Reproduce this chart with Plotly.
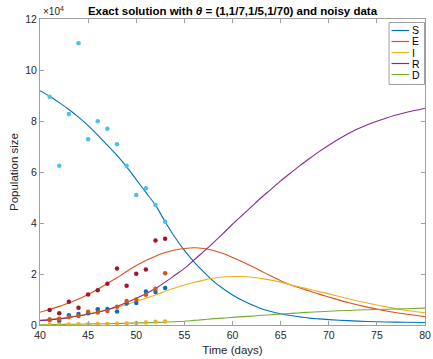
import plotly.graph_objects as go

# ---- data (population in units of 10^4) ----
obs_days = [41, 42, 43, 44, 45, 46, 47, 48, 49, 50, 51, 52, 53]
S_obs = [8.95, 6.25, 8.27, 11.05, 7.28, 7.99, 7.70, 7.09, 6.25, 5.10, 5.36, 4.71, 4.05]
E_obs = [0.59, 0.46, 0.91, 0.68, 1.20, 1.36, 1.62, 2.22, 1.54, 2.01, 2.18, 3.31, 3.38]
I_obs = [0.22, 0.16, 0.38, 0.43, 0.46, 0.62, 0.63, 0.53, 0.84, 0.86, 1.31, 1.29, 1.45]
R_obs = [0.20, 0.25, 0.31, 0.35, 0.52, 0.49, 0.55, 0.72, 0.94, 1.00, 1.19, 1.42, 2.03]
D_obs = [0.02, 0.02, 0.02, 0.03, 0.03, 0.04, 0.04, 0.05, 0.06, 0.08, 0.10, 0.13, 0.14]

t_curve = [40, 41, 42, 43, 44, 45, 46, 47, 48, 49, 50, 51, 52, 53, 54, 55, 56, 57, 58, 59,
           60, 61, 62, 63, 64, 65, 66, 67, 68, 69, 70, 72, 74, 76, 78, 80]
S_curve = [9.19, 8.97, 8.72, 8.45, 8.15, 7.82, 7.45, 7.05, 6.65, 6.20, 5.70, 5.20, 4.70, 4.05, 3.45,
           2.93, 2.48, 2.08, 1.72, 1.43, 1.18, 0.97, 0.79, 0.64, 0.53, 0.44, 0.37, 0.32, 0.27, 0.24,
           0.21, 0.17, 0.14, 0.12, 0.11, 0.10]
E_curve = [0.50, 0.61, 0.73, 0.86, 1.02, 1.20, 1.40, 1.63, 1.85, 2.10, 2.33, 2.53, 2.70, 2.84, 2.94,
           3.00, 3.03, 3.00, 2.92, 2.80, 2.65, 2.48, 2.30, 2.11, 1.92, 1.74, 1.58, 1.45, 1.33, 1.21,
           1.10, 0.88, 0.70, 0.55, 0.43, 0.33]
I_curve = [0.19, 0.22, 0.26, 0.31, 0.37, 0.44, 0.52, 0.60, 0.70, 0.80, 0.92, 1.05, 1.18, 1.32, 1.45,
           1.57, 1.67, 1.76, 1.83, 1.88, 1.90, 1.90, 1.87, 1.82, 1.76, 1.68, 1.58, 1.49, 1.40, 1.31,
           1.22, 1.03, 0.86, 0.71, 0.58, 0.48]
R_curve = [0.17, 0.20, 0.24, 0.29, 0.35, 0.42, 0.50, 0.60, 0.73, 0.88, 1.05, 1.23, 1.43, 1.68, 1.95,
           2.22, 2.55, 2.88, 3.22, 3.58, 3.95, 4.30, 4.65, 5.00, 5.32, 5.65, 5.95, 6.25, 6.53, 6.80,
           7.05, 7.50, 7.85, 8.12, 8.33, 8.50]
D_curve = [0.01, 0.02, 0.02, 0.03, 0.03, 0.04, 0.05, 0.05, 0.06, 0.07, 0.08, 0.09, 0.10, 0.11, 0.13,
           0.15, 0.18, 0.21, 0.25, 0.27, 0.30, 0.33, 0.35, 0.38, 0.40, 0.43, 0.45, 0.48, 0.50, 0.52,
           0.54, 0.57, 0.60, 0.62, 0.64, 0.66]

curve_names = ["S", "E", "I", "R", "D"]
curve_colors = ["#0072BD", "#D95319", "#EDB120", "#7E2F8E", "#77AC30"]
obs_colors = ["#4DBEEE", "#A2142F", "#0072BD", "#D95319", "#EDB120"]
x_ticks = [40, 45, 50, 55, 60, 65, 70, 75, 80]
y_ticks = [0, 2, 4, 6, 8, 10, 12]

curves = [S_curve, E_curve, I_curve, R_curve, D_curve]
obs = [S_obs, E_obs, I_obs, R_obs, D_obs]

W, H = 433, 359
ML, MR, MT, MB = 40, 2, 19, 34
PW, PH = W - ML - MR, H - MT - MB


def px2x(px):
    return (px - ML) / PW


def px2y(py):
    return 1 - (py - MT) / PH


FONT = "Liberation Sans, Arial, Helvetica, sans-serif"
fig = go.Figure()
for name, col, ys in zip(curve_names, curve_colors, curves):
    fig.add_trace(go.Scatter(x=t_curve, y=ys, mode="lines", name=name, showlegend=False,
                             line=dict(color=col, width=1.1, shape="spline", smoothing=0.8)))
for name, col, ys in zip(curve_names, obs_colors, obs):
    fig.add_trace(go.Scatter(x=obs_days, y=ys, mode="markers", name=name + " data",
                             showlegend=False, marker=dict(color=col, size=4.5)))

axis_common = dict(showgrid=False, zeroline=False, showline=True, linecolor="#a0a0a0",
                   linewidth=1, mirror="ticks", ticks="inside", ticklen=4, tickcolor="#a0a0a0",
                   ticklabeloverflow="allow",
                   tickfont=dict(family=FONT, size=10.5, color="#262626"))
fig.update_xaxes(range=[40, 80], tickvals=x_ticks, ticktext=[str(v) for v in x_ticks],
                 title=dict(text="Time (days)", standoff=6,
                            font=dict(family=FONT, size=11.5, color="#262626")),
                 **axis_common)
fig.update_yaxes(range=[0, 12], tickvals=y_ticks, ticktext=[str(v) for v in y_ticks],
                 title=dict(text="Population size", standoff=4,
                            font=dict(family=FONT, size=11.5, color="#262626")),
                 **axis_common)

# compact legend box (MATLAB style)
shapes = [dict(type="rect", xref="paper", yref="paper",
               x0=px2x(394.5), x1=px2x(430.5), y0=px2y(84.5), y1=px2y(22.5),
               line=dict(color="#a0a0a0", width=1), fillcolor="white", layer="above")]
annotations = [dict(text="×10<sup>4</sup>", xref="paper", yref="paper", x=0.0, y=1.0,
                    xanchor="left", yanchor="bottom", showarrow=False, xshift=1,
                    font=dict(family=FONT, size=10, color="#262626"))]
for k, (name, col) in enumerate(zip(curve_names, curve_colors)):
    yc = 30.5 + 11 * k
    shapes.append(dict(type="line", xref="paper", yref="paper",
                       x0=px2x(397), x1=px2x(415), y0=px2y(yc), y1=px2y(yc),
                       line=dict(color=col, width=1.2), layer="above"))
    annotations.append(dict(text=name, xref="paper", yref="paper", x=px2x(416), y=px2y(yc),
                            xanchor="left", yanchor="middle", showarrow=False,
                            font=dict(family=FONT, size=10.5, color="#000000")))

fig.update_layout(
    width=W, height=H,
    margin=dict(l=ML, r=MR, t=MT, b=MB),
    paper_bgcolor="white", plot_bgcolor="white",
    title=dict(text="<b>Exact solution with <i>θ</i> = (1,1/7,1/5,1/70) and noisy data</b>",
               x=0.5, xref="paper", xanchor="center", y=1 - 10.5 / H, yanchor="middle",
               font=dict(family=FONT, size=11.5, color="#000000")),
    shapes=shapes,
    annotations=annotations,
    showlegend=False,
)

fig.write_html("out.html")
